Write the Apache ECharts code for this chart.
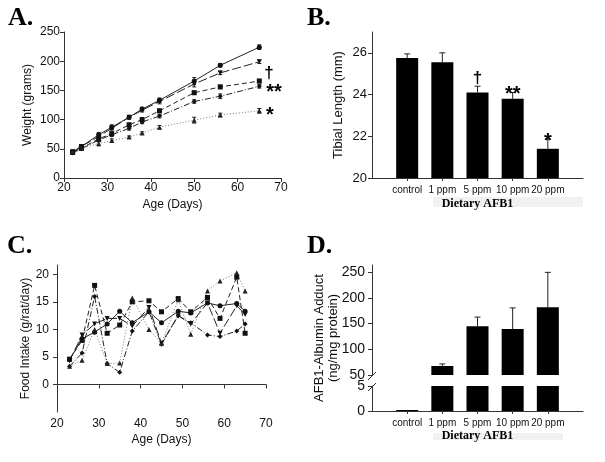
<!DOCTYPE html>
<html><head><meta charset="utf-8">
<script src="https://cdn.jsdelivr.net/npm/echarts@6/dist/echarts.min.js"></script>
<style>html,body{margin:0;padding:0;background:#fff}#c{width:605px;height:462px}</style>
</head><body><div id="c"></div>
<script>
// ---------- Panel A: body weight ----------
const weightDays = [22, 24, 28, 31, 35, 38, 42, 50, 56, 65];
const wControl = [44, 54, 74, 87, 104, 118, 133, 166, 193, 224];
const w1ppm    = [45, 54, 71, 85, 104, 116, 131, 161, 180, 199];
const w5ppm    = [44, 51, 67, 76, 91, 100, 115, 146, 156, 166];
const w10ppm   = [43, 50, 65, 74, 85, 96, 106, 131, 140, 157];
const w20ppm   = [45, 51, 59, 64, 70, 77, 87, 99, 108, 115];
const wErrControl = [3, 3, 4, 4, 3, 3, 4, 6, 3, 4];
const wErr1ppm    = [3, 3, 4, 3, 3, 3, 4, 5, 3, 3];
const wErr5ppm    = [2, 3, 4, 3, 3, 3, 3, 3, 3, 3];
const wErr10ppm   = [2, 2, 3, 3, 3, 3, 3, 3, 4, 3];
const wErr20ppm   = [2, 3, 4, 3, 2, 2, 3, 5, 3, 4];

// ---------- Panel B: tibial length ----------
const doseGroups = ['control', '1 ppm', '5 ppm', '10 ppm', '20 ppm'];
const tibiaLength = [25.75, 25.55, 24.1, 23.8, 21.4];
const tibiaErr = [0.2, 0.45, 0.3, 0.3, 0.47];
const tibiaSig = ['', '', '\u2020', '**', '*'];

// ---------- Panel C: food intake ----------
const intakeDays = [23, 26, 29, 32, 35, 38, 42, 45, 49, 52, 56, 59, 63, 65];
const fControl = [4.5, 8.3, 9.5, 11.0, 13.3, 11.2, 13.2, 11.2, 13.3, 13.0, 14.8, 14.3, 14.7, 13.3];
const f1ppm    = [4.3, 9.0, 11.0, 12.0, 12.0, 10.6, 14.0, 7.5, 12.5, 11.0, 14.8, 9.3, 14.3, 12.7];
const f5ppm    = [4.6, 8.0, 18.0, 9.3, 10.8, 15.0, 15.2, 13.2, 15.6, 13.2, 15.8, 12.0, 19.5, 9.3];
const f10ppm   = [3.3, 5.7, 16.0, 3.8, 2.2, 9.7, 13.2, 7.3, 12.5, 11.2, 9.0, 8.7, 9.7, 11.0];
const f20ppm   = [3.3, 4.4, 10.0, 3.8, 3.9, 15.7, 10.0, 7.5, 15.4, 9.1, 17.0, 18.8, 20.3, 17.0];

// ---------- Panel D: AFB1-albumin adduct ----------
const adduct = [0.2, 67.5, 144.7, 139.5, 181.7];
const adductErr = [0, 4, 18, 41, 68];

// ---------- helpers ----------
const SANS = 'Liberation Sans, Arial, sans-serif';
const SERIF = 'Liberation Serif, Times New Roman, serif';
const AX = '#333';
const axisCat = [''].concat(doseGroups).concat(['']);
const padCat = arr => ['-'].concat(arr).concat(['-']);
const pair = (xs, ys) => xs.map((x, i) => [x, ys[i]]);

function errRenderer(capW, withLow) {
  return function (params, api) {
    const x = api.value(0), lo = api.value(1), hi = api.value(2);
    const p1 = api.coord([x, lo]), p2 = api.coord([x, hi]);
    const st = { stroke: '#222', lineWidth: 1 };
    const ch = [
      { type: 'line', shape: { x1: p1[0], y1: p1[1], x2: p2[0], y2: p2[1] }, style: st },
      { type: 'line', shape: { x1: p2[0] - capW, y1: p2[1], x2: p2[0] + capW, y2: p2[1] }, style: st }
    ];
    if (withLow) ch.push({ type: 'line', shape: { x1: p1[0] - capW, y1: p1[1], x2: p1[0] + capW, y2: p1[1] }, style: st });
    return { type: 'group', children: ch };
  };
}

const lineStyles = [
  { name: 'control', symbol: 'circle', rot: 0, dash: 'solid', color: '#111', lc: '#222' },
  { name: '1 ppm', symbol: 'triangle', rot: 180, dash: [9, 3], color: '#111', lc: '#222' },
  { name: '5 ppm', symbol: 'rect', rot: 0, dash: [5, 3], color: '#111', lc: '#222' },
  { name: '10 ppm', symbol: 'diamond', rot: 0, dash: [6, 2, 1, 2], color: '#111', lc: '#222' },
  { name: '20 ppm', symbol: 'triangle', rot: 0, dash: [1, 2], color: '#222', lc: '#777' }
];
const weightSets = [wControl, w1ppm, w5ppm, w10ppm, w20ppm];
const weightErrs = [wErrControl, wErr1ppm, wErr5ppm, wErr10ppm, wErr20ppm];
const intakeSets = [fControl, f1ppm, f5ppm, f10ppm, f20ppm];

const series = [];
weightSets.forEach((vals, k) => {
  const s = lineStyles[k];
  series.push({
    type: 'custom', xAxisIndex: 0, yAxisIndex: 0, renderItem: errRenderer(2, true),
    data: weightDays.map((d, i) => [d, vals[i] - weightErrs[k][i], vals[i] + weightErrs[k][i]]),
    silent: true, z: 3
  });
  series.push({
    type: 'line', xAxisIndex: 0, yAxisIndex: 0, name: s.name,
    data: pair(weightDays, vals), symbol: s.symbol, symbolRotate: s.rot, symbolSize: 5,
    itemStyle: { color: s.color }, lineStyle: { color: s.lc, width: 1, type: s.dash }, z: 4
  });
});
intakeSets.forEach((vals, k) => {
  const s = lineStyles[k];
  series.push({
    type: 'line', xAxisIndex: 2, yAxisIndex: 2, name: s.name,
    data: pair(intakeDays, vals), symbol: s.symbol, symbolRotate: s.rot, symbolSize: 5,
    itemStyle: { color: s.color }, lineStyle: { color: s.lc, width: 1, type: s.dash }
  });
});
// Panel B bars
series.push({
  type: 'bar', xAxisIndex: 1, yAxisIndex: 1, data: padCat(tibiaLength), barWidth: 22,
  itemStyle: { color: '#000' }, clip: true
});
series.push({
  type: 'custom', xAxisIndex: 1, yAxisIndex: 1, z: 5,
  data: tibiaLength.map((v, i) => [i + 1, v, v + tibiaErr[i], tibiaSig[i]]),
  renderItem: function (params, api) {
    const g = errRenderer(3, false)(params, api);
    const sig = tibiaSig[params.dataIndex];
    if (sig) {
      const p = api.coord([api.value(0), api.value(2)]);
      const star = sig.indexOf('*') >= 0;
      g.children.push({
        type: 'text',
        style: { text: sig, x: p[0], y: star ? p[1] + 2 : p[1] - 8, align: 'center', verticalAlign: 'middle',
          font: 'bold ' + (star ? 20 : 17) + 'px ' + SANS, fill: '#000' }
      });
    }
    return g;
  }
});
// Panel D bars (upper and lower parts of broken axis)
series.push({
  type: 'bar', xAxisIndex: 3, yAxisIndex: 3, data: padCat(adduct), barWidth: 22,
  itemStyle: { color: '#000' }, clip: true
});
series.push({
  type: 'custom', xAxisIndex: 3, yAxisIndex: 3, z: 5,
  data: adduct.map((v, i) => [i + 1, v, v + adductErr[i]]).filter(d => d[2] > 50),
  renderItem: errRenderer(3, false)
});
series.push({
  type: 'bar', xAxisIndex: 4, yAxisIndex: 4, data: padCat(adduct), barWidth: 22,
  itemStyle: { color: '#000' }, clip: true
});

const tickLabel = (size) => ({ color: '#111', fontFamily: SANS, fontSize: size });
const axLine = { show: true, lineStyle: { color: AX, width: 1 } };
const axTick = { show: true, length: 4, lineStyle: { color: AX } };
const catTick = { show: true, length: 3, lineStyle: { color: AX }, alignWithLabel: true,
  interval: (i) => i > 0 && i < axisCat.length - 1 };

const option = {
  animation: false,
  backgroundColor: '#fff',
  grid: [
    { left: 64, top: 32, width: 217, height: 146 },
    { left: 372, top: 32, width: 211, height: 146 },
    { left: 57, top: 265, width: 209, height: 147 },
    { left: 372, top: 265, width: 211, height: 110 },
    { left: 372, top: 386, width: 211, height: 25 }
  ],
  xAxis: [
    { type: 'value', gridIndex: 0, min: 20, max: 70, interval: 10, splitLine: { show: false },
      axisLine: axLine, axisTick: axTick, axisLabel: Object.assign(tickLabel(12), { margin: 4 }),
      name: 'Age (Days)', nameLocation: 'middle', nameGap: 21,
      nameTextStyle: { fontFamily: SANS, fontSize: 12, color: '#111' } },
    { type: 'category', gridIndex: 1, data: axisCat, boundaryGap: false,
      axisLine: axLine, axisTick: catTick, axisLabel: Object.assign(tickLabel(10), { margin: 7, interval: 0 }),
      name: 'Dietary AFB1', nameLocation: 'middle', nameGap: 20,
      nameTextStyle: { fontFamily: SERIF, fontWeight: 'bold', fontSize: 12, color: '#000' } },
    { type: 'value', gridIndex: 2, min: 20, max: 70, interval: 10, splitLine: { show: false },
      axisLine: axLine, axisTick: axTick, axisLabel: Object.assign(tickLabel(12), { margin: 6 }),
      name: 'Age (Days)', nameLocation: 'middle', nameGap: 22,
      nameTextStyle: { fontFamily: SANS, fontSize: 12, color: '#111' } },
    { type: 'category', gridIndex: 3, data: axisCat, boundaryGap: false, show: false },
    { type: 'category', gridIndex: 4, data: axisCat, boundaryGap: false,
      axisLine: axLine, axisTick: catTick, axisLabel: Object.assign(tickLabel(10), { margin: 7, interval: 0 }),
      name: 'Dietary AFB1', nameLocation: 'middle', nameGap: 19,
      nameTextStyle: { fontFamily: SERIF, fontWeight: 'bold', fontSize: 12, color: '#000' } }
  ],
  yAxis: [
    { type: 'value', gridIndex: 0, min: 0, max: 250, interval: 50, splitLine: { show: false },
      axisLine: axLine, axisTick: axTick, axisLabel: Object.assign(tickLabel(12), { margin: 4 }),
      name: 'Weight (grams)', nameLocation: 'middle', nameGap: 30,
      nameTextStyle: { fontFamily: SANS, fontSize: 12, color: '#111' } },
    { type: 'value', gridIndex: 1, min: 20, max: 27, interval: 2, splitLine: { show: false },
      axisLine: axLine, axisTick: axTick, axisLabel: Object.assign(tickLabel(13), { margin: 5, showMaxLabel: false }),
      name: 'Tibial Length (mm)', nameLocation: 'middle', nameGap: 27,
      nameTextStyle: { fontFamily: SANS, fontSize: 13, color: '#111' } },
    { type: 'value', gridIndex: 2, min: -5, max: 21.7, interval: 5, splitLine: { show: false },
      axisLine: axLine, axisTick: axTick,
      axisLabel: Object.assign(tickLabel(12), { margin: 8, showMaxLabel: false, showMinLabel: false }),
      name: 'Food Intake (g/rat/day)', nameLocation: 'middle', nameGap: 24,
      nameTextStyle: { fontFamily: SANS, fontSize: 12, color: '#111' } },
    { type: 'value', gridIndex: 3, min: 50, max: 264, interval: 50, splitLine: { show: false },
      axisLine: axLine, axisTick: axTick, axisLabel: Object.assign(tickLabel(14), { margin: 7, showMaxLabel: false }) },
    { type: 'value', gridIndex: 4, min: 0, max: 5, interval: 5, splitLine: { show: false },
      axisLine: axLine, axisTick: axTick, axisLabel: Object.assign(tickLabel(14), { margin: 7 }) }
  ],
  graphic: [
    { type: 'rect', shape: { x: 433, y: 197, width: 150, height: 10 }, style: { fill: '#f1f1f1' }, z: -10 },
    { type: 'rect', shape: { x: 433, y: 433, width: 130, height: 7 }, style: { fill: '#f1f1f1' }, z: -10 },
    { type: 'text', left: 8, top: 5, style: { text: 'A.', font: 'bold 26px ' + SERIF, fill: '#000' } },
    { type: 'text', left: 307, top: 5, style: { text: 'B.', font: 'bold 26px ' + SERIF, fill: '#000' } },
    { type: 'text', left: 7, top: 233, style: { text: 'C.', font: 'bold 26px ' + SERIF, fill: '#000' } },
    { type: 'text', left: 307, top: 233, style: { text: 'D.', font: 'bold 26px ' + SERIF, fill: '#000' } },
    { type: 'text', x: 269, y: 73, style: { text: '\u2020', font: 'bold 17px ' + SANS, fill: '#000', align: 'center', verticalAlign: 'middle' } },
    { type: 'text', x: 274, y: 92, style: { text: '**', font: 'bold 20px ' + SANS, fill: '#000', align: 'center', verticalAlign: 'middle' } },
    { type: 'text', x: 270, y: 115, style: { text: '*', font: 'bold 20px ' + SANS, fill: '#000', align: 'center', verticalAlign: 'middle' } },
    { type: 'text', x: 326, y: 338, rotation: Math.PI / 2,
      style: { text: 'AFB1-Albumin Adduct\n(ng/mg protein)', font: '13px ' + SANS, fill: '#111',
        align: 'center', verticalAlign: 'middle', lineHeight: 14 } },
    { type: 'line', shape: { x1: 368, y1: 380, x2: 376, y2: 372 }, style: { stroke: AX, lineWidth: 1 } },
    { type: 'line', shape: { x1: 368, y1: 391, x2: 376, y2: 383 }, style: { stroke: AX, lineWidth: 1 } }
  ],
  series: series
};
const chart = echarts.init(document.getElementById('c'), null, { renderer: 'canvas' });
chart.setOption(option);
</script>
</body></html>
